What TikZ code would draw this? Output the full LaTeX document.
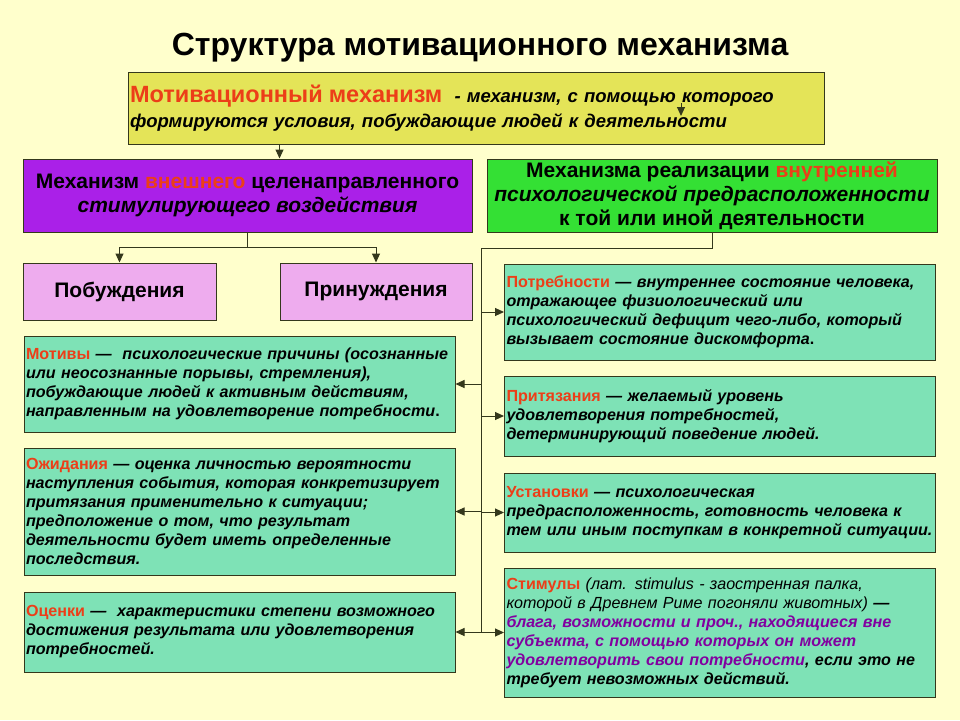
\documentclass[tikz,border=0pt]{standalone}
\usepackage{fontspec}
\setmainfont{Liberation Sans}
\usetikzlibrary{arrows.meta,positioning}

\definecolor{pagebg}{RGB}{255,255,204}
\definecolor{yellowbox}{RGB}{228,228,88}
\definecolor{purplebox}{RGB}{170,32,232}
\definecolor{pinkbox}{RGB}{238,172,238}
\definecolor{greenbox}{RGB}{52,224,52}
\definecolor{tealbox}{RGB}{126,226,182}
\definecolor{termred}{RGB}{236,62,24}
\definecolor{textpurple}{RGB}{130,0,160}
\definecolor{edgeline}{RGB}{52,56,28}

\newcommand{\term}[1]{{\upshape\bfseries\color{termred}#1}}

\tikzset{
  box/.style={draw=edgeline, line width=1pt, inner xsep=2pt, inner ysep=2pt},
  headbox/.style={box, align=center, font=\fontsize{21}{24}\selectfont\bfseries},
  defbox/.style={box, fill=tealbox, align=left, text width=427pt,
    font=\fontsize{16.1}{19}\selectfont\bfseries\itshape},
  link/.style={draw=edgeline, line width=1pt},
  arr/.style={link, -{Triangle[length=9pt,width=8pt]}},
}

\begin{document}
\begin{tikzpicture}[x=1pt, y=-1pt]
\fill[pagebg] (0,0) rectangle (960,720);

\node (title) at (480,48) {\fontsize{32}{35}\selectfont\bfseries Структура мотивационного механизма};

% upper level
\node[box, fill=yellowbox, align=left, text width=692pt, minimum height=72pt,
  font=\fontsize{18.5}{25}\selectfont\bfseries\itshape] (mech) at (476,108)
  {\term{\fontsize{23.5}{25}\selectfont Мотивационный механизм}\ \ - механизм, с помощью которого\\
   формируются условия, побуждающие людей к деятельности};
\node[headbox, fill=purplebox, minimum width=449pt, minimum height=73pt] (outer) at (247.5,195.5)
  {Механизм \term{внешнего} целенаправленного\\ \textit{стимулирующего воздействия}};
\node[headbox, fill=greenbox, minimum width=450pt, minimum height=73pt] (inner) at (712,195.5)
  {Механизма реализации \term{внутренней}\\ \textit{психологической предрасположенности}\\ к той или иной деятельности};

% external stimulation
\node[headbox, fill=pinkbox, minimum width=193pt, minimum height=57pt] (induce) at (119.5,291.5) {Побуждения};
\node[headbox, fill=pinkbox, minimum width=192pt, minimum height=57pt] (force) at (376,291.5) {Принуждения};

% left column
\node[defbox, minimum height=96pt] (motive) at (239.5,384)
  {\term{Мотивы} —\ \ психологические причины (осознанные\\
   или неосознанные порывы, стремления),\\
   побуждающие людей к активным действиям,\\
   направленным на удовлетворение потребности{\upshape.}};
\node[defbox, minimum height=127pt] (expect) at (239.5,511.5)
  {\term{Ожидания} — оценка личностью вероятности\\
   наступления события, которая конкретизирует\\
   притязания применительно к ситуации;\\
   предположение о том, что результат\\
   деятельности будет иметь определенные\\
   последствия.};
\node[defbox, minimum height=80pt] (assess) at (239.5,632)
  {\term{Оценки} —\ \ характеристики степени возможного\\
   достижения результата или удовлетворения\\
   потребностей.};

% right column
\node[defbox, minimum height=96pt] (need) at (720,312)
  {\term{Потребности} — внутреннее состояние человека,\\
   отражающее физиологический или\\
   психологический дефицит чего-либо, который\\
   вызывает состояние дискомфорта{\upshape.}};
\node[defbox, minimum height=80pt] (claim) at (720,416)
  {\term{Притязания} — желаемый уровень\\
   удовлетворения потребностей,\\
   детерминирующий поведение людей.};
\node[defbox, minimum height=79pt] (attitude) at (720,512.5)
  {\term{Установки} — психологическая\\
   предрасположенность, готовность человека к\\
   тем или иным поступкам в конкретной ситуации.};
\node[defbox, minimum height=129pt] (stimul) at (720,632.5)
  {\term{Стимулы} {\mdseries (лат. stimulus - заостренная палка,\\
   которой в Древнем Риме погоняли животных)} —\\
   {\color{textpurple}блага, возможности и проч., находящиеся вне\\
   субъекта, с помощью которых он может\\
   удовлетворить свои потребности}, если это не\\
   требует невозможных действий.};

% connectors
\coordinate (tick) at (681,103);
\draw[arr] (tick) -- ++(0,13);
\draw[arr] (mech.south -| force.west) -- (outer.north -| force.west);
\draw[link] (outer.south) -- ++(0,15) coordinate (fork);
\draw[arr] (fork) -| (induce.north);
\draw[arr] (fork) -| (force.north);
\coordinate (busT) at (481,248);
\coordinate (busB) at (481,632);
\draw[link] (inner.south) |- (busT) -- (busB);
\draw[arr] (busT |- need.west) -- (need.west);
\draw[arr] (busT |- motive.east) -- (motive.east);
\draw[arr] (busT |- claim.west) -- (claim.west);
\draw[arr] (busT |- expect.east) -- (expect.east);
\draw[arr] (busT |- attitude.west) -- (attitude.west);
\draw[arr] (busT |- assess.east) -- (assess.east);
\draw[arr] (busT |- stimul.west) -- (stimul.west);
\end{tikzpicture}
\end{document}
